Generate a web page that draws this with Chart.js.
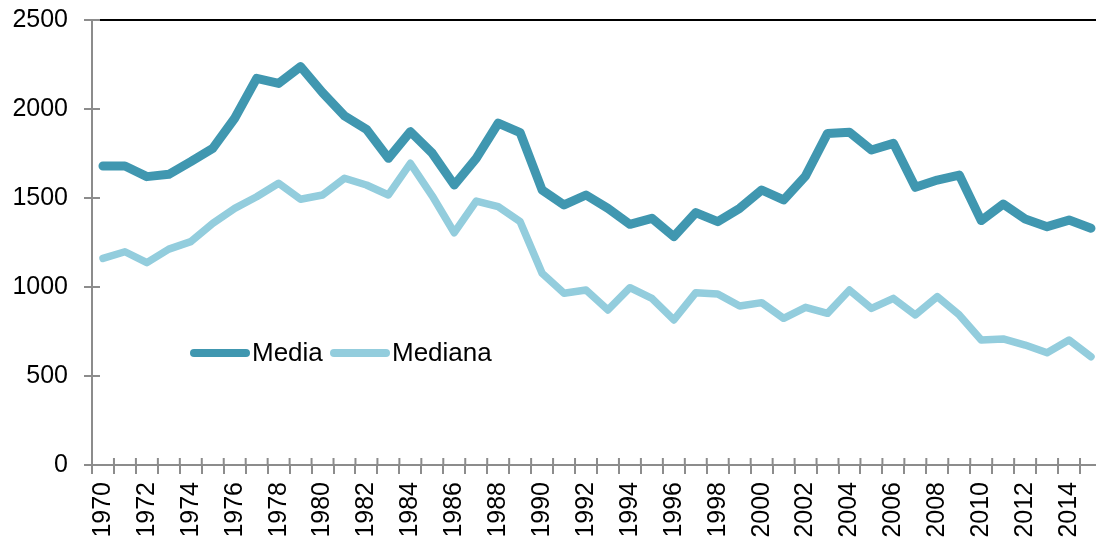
<!DOCTYPE html>
<html>
<head>
<meta charset="utf-8">
<script src="https://cdn.jsdelivr.net/npm/chart.js@4/dist/chart.umd.min.js"></script>
<style>
  html, body { margin: 0; padding: 0; background: #fff; overflow: hidden; }
  #wrap { width: 1096px; height: 543px; overflow: hidden; position: relative; }
  #chart { position: absolute; left: 0; top: -11px; }
</style>
</head>
<body>
<div id="wrap"><canvas id="chart" width="1129" height="554"></canvas></div>
<script>

var anni = [];
for (var a = 1970; a <= 2015; a++) anni.push(String(a));

var media = [1680, 1680, 1620, 1633, 1704, 1779, 1948, 2172, 2144, 2238,
             2092, 1961, 1886, 1723, 1873, 1751, 1573, 1723, 1920, 1867,
             1545, 1461, 1517, 1442, 1352, 1386, 1283, 1418, 1367, 1442,
             1545, 1489, 1624, 1863, 1869, 1770, 1807, 1560, 1601, 1629,
             1373, 1466, 1382, 1339, 1376, 1330];

var mediana = [1161, 1198, 1137, 1213, 1255, 1358, 1442, 1507, 1583, 1493,
               1517, 1611, 1573, 1517, 1695, 1511, 1305, 1483, 1451, 1367,
               1077, 965, 983, 871, 996, 936, 815, 968, 961, 893,
               912, 824, 886, 852, 983, 880, 936, 843, 946, 843,
               702, 708, 674, 631, 702, 608];

var yTicks = [0, 500, 1000, 1500, 2000, 2500];

var coloreMedia = '#4097b0';
var coloreMediana = '#93cddd';
var coloreAsse = '#8c8c8c';
var font = "'Liberation Sans', Arial, sans-serif";

// tick "a croce" come in Excel + linea nera in alto
var assiPlugin = {
    id: 'assi',
    afterDraw: function (chart) {
        var ctx = chart.ctx,
            area = chart.chartArea,
            y = chart.scales.y;
        ctx.save();
        ctx.strokeStyle = coloreAsse;
        ctx.lineWidth = 2;
        ctx.beginPath();
        yTicks.forEach(function (v) {
            var py = y.getPixelForValue(v);
            ctx.moveTo(area.left, py);
            ctx.lineTo(area.left + 8, py);
        });
        for (var i = 0; i <= anni.length; i++) {
            var px = area.left + (area.right - area.left) * i / anni.length;
            ctx.moveTo(px, area.bottom);
            ctx.lineTo(px, area.bottom - 7);
        }
        ctx.stroke();

        ctx.strokeStyle = '#000';
        ctx.lineWidth = 2;
        ctx.beginPath();
        ctx.moveTo(area.left + 8, area.top);
        ctx.lineTo(area.right, area.top);
        ctx.stroke();
        ctx.restore();
    }
};

// legenda dentro l'area del grafico (canvas spostato di 11px in alto)
var legendaPlugin = {
    id: 'legenda',
    afterDraw: function (chart) {
        var ctx = chart.ctx;
        var pos = [{ x0: 194, x1: 246, tx: 252 }, { x0: 334, x1: 386, tx: 392 }];
        var ly = 353 + 11;
        ctx.save();
        ctx.font = '26px ' + font;
        ctx.textBaseline = 'middle';
        ctx.fillStyle = '#000';
        chart.data.datasets.forEach(function (ds, i) {
            ctx.strokeStyle = ds.borderColor;
            ctx.lineWidth = 8;
            ctx.lineCap = 'round';
            ctx.beginPath();
            ctx.moveTo(pos[i].x0, ly);
            ctx.lineTo(pos[i].x1, ly);
            ctx.stroke();
            ctx.fillText(ds.label, pos[i].tx, ly + 1);
        });
        ctx.restore();
    }
};

new Chart(document.getElementById('chart').getContext('2d'), {
    type: 'line',
    data: {
        labels: anni,
        datasets: [{
            label: 'Media',
            data: media,
            borderColor: coloreMedia,
            backgroundColor: coloreMedia,
            borderWidth: 9,
            pointRadius: 0,
            tension: 0,
            borderJoinStyle: 'round',
            borderCapStyle: 'round'
        }, {
            label: 'Mediana',
            data: mediana,
            borderColor: coloreMediana,
            backgroundColor: coloreMediana,
            borderWidth: 7.5,
            pointRadius: 0,
            tension: 0,
            borderJoinStyle: 'round',
            borderCapStyle: 'round'
        }]
    },
    options: {
        responsive: false,
        animation: false,
        layout: { padding: { top: 8, right: 0, bottom: 0, left: 0 } },
        plugins: {
            legend: { display: false },
            tooltip: { enabled: false }
        },
        scales: {
            x: {
                offset: true,
                grid: {
                    offset: true,
                    drawOnChartArea: false,
                    color: coloreAsse,
                    lineWidth: 2,
                    tickLength: 9
                },
                border: { color: coloreAsse, width: 2 },
                ticks: {
                    autoSkip: false,
                    minRotation: 90,
                    maxRotation: 90,
                    padding: 8,
                    color: '#000',
                    font: { family: font, size: 25 },
                    callback: function (val, idx) {
                        return idx % 2 === 0 ? anni[idx] : '';
                    }
                },
                afterFit: function (s) { s.height = 78; }
            },
            y: {
                min: 0,
                max: 2500,
                afterBuildTicks: function (s) {
                    s.ticks = yTicks.map(function (v) { return { value: v }; });
                },
                grid: {
                    drawOnChartArea: false,
                    color: coloreAsse,
                    lineWidth: 2,
                    tickLength: 8
                },
                border: { color: coloreAsse, width: 2 },
                ticks: {
                    padding: 16,
                    color: '#000',
                    font: { family: font, size: 25 },
                    callback: function (v) { return String(v); }
                },
                afterFit: function (s) { s.width = 92; }
            }
        }
    },
    plugins: [assiPlugin, legendaPlugin]
});
</script>
</body>
</html>
